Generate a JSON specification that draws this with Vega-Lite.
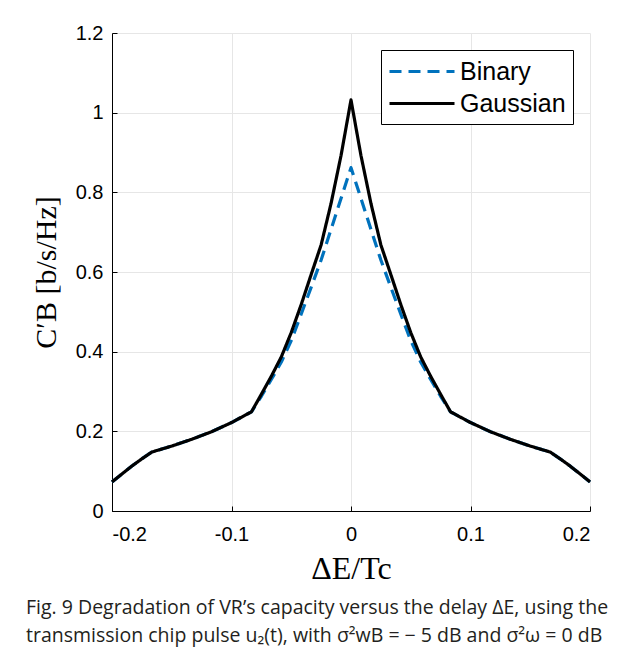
{
  "$schema": "https://vega.github.io/schema/vega-lite/v6.json",
  "width": 478,
  "height": 478,
  "autosize": {"type": "none"},
  "padding": {"left": 112, "top": 33, "right": 36, "bottom": 152},
  "background": "white",
  "config": {
    "view": {"stroke": null},
    "font": "Liberation Sans",
    "axis": {
      "domainColor": "black",
      "domainWidth": 1,
      "tickColor": "black",
      "tickSize": -5,
      "gridColor": "#e6e6e6",
      "gridWidth": 1,
      "labelFont": "Liberation Sans",
      "labelFontSize": 20,
      "labelColor": "black",
      "titleFont": "Liberation Serif",
      "titleFontWeight": "normal",
      "titleColor": "black"
    },
    "legend": {
      "orient": "top-right",
      "offset": 17,
      "strokeColor": "black",
      "fillColor": "white",
      "padding": 7,
      "symbolType": "M-1,0H4",
      "symbolSize": 676,
      "symbolStrokeWidth": 3,
      "labelFont": "Liberation Sans",
      "labelFontSize": 25,
      "labelColor": "black",
      "labelOffset": 43,
      "rowPadding": 4,
      "cornerRadius": 0
    }
  },
  "title": {
    "text": ["Fig. 9 Degradation of VR’s capacity versus the delay ΔE, using the", "transmission chip pulse u₂(t), with σ²wB = − 5 dB and σ²ω = 0 dB"],
    "orient": "bottom",
    "anchor": "start",
    "frame": "group",
    "dx": -86,
    "offset": 15,
    "font": "Open Sans",
    "fontSize": 19.5,
    "fontWeight": "normal",
    "color": "#231f20",
    "lineHeight": 28
  },
  "data": {
    "values": [
      {"x": -0.2, "y": 0.073, "series": "Binary"},
      {"x": -0.1917, "y": 0.093, "series": "Binary"},
      {"x": -0.1833, "y": 0.113, "series": "Binary"},
      {"x": -0.175, "y": 0.131, "series": "Binary"},
      {"x": -0.1667, "y": 0.148, "series": "Binary"},
      {"x": -0.15, "y": 0.163, "series": "Binary"},
      {"x": -0.1333, "y": 0.18, "series": "Binary"},
      {"x": -0.1167, "y": 0.199, "series": "Binary"},
      {"x": -0.1, "y": 0.222, "series": "Binary"},
      {"x": -0.0833, "y": 0.249, "series": "Binary"},
      {"x": -0.075, "y": 0.288, "series": "Binary"},
      {"x": -0.0667, "y": 0.33, "series": "Binary"},
      {"x": -0.0583, "y": 0.374, "series": "Binary"},
      {"x": -0.05, "y": 0.428, "series": "Binary"},
      {"x": -0.0417, "y": 0.494, "series": "Binary"},
      {"x": -0.0333, "y": 0.562, "series": "Binary"},
      {"x": -0.025, "y": 0.63, "series": "Binary"},
      {"x": -0.0167, "y": 0.707, "series": "Binary"},
      {"x": -0.0083, "y": 0.785, "series": "Binary"},
      {"x": 0, "y": 0.862, "series": "Binary"},
      {"x": 0.0083, "y": 0.785, "series": "Binary"},
      {"x": 0.0167, "y": 0.707, "series": "Binary"},
      {"x": 0.025, "y": 0.63, "series": "Binary"},
      {"x": 0.0333, "y": 0.562, "series": "Binary"},
      {"x": 0.0417, "y": 0.494, "series": "Binary"},
      {"x": 0.05, "y": 0.428, "series": "Binary"},
      {"x": 0.0583, "y": 0.374, "series": "Binary"},
      {"x": 0.0667, "y": 0.33, "series": "Binary"},
      {"x": 0.075, "y": 0.288, "series": "Binary"},
      {"x": 0.0833, "y": 0.249, "series": "Binary"},
      {"x": 0.1, "y": 0.222, "series": "Binary"},
      {"x": 0.1167, "y": 0.199, "series": "Binary"},
      {"x": 0.1333, "y": 0.18, "series": "Binary"},
      {"x": 0.15, "y": 0.163, "series": "Binary"},
      {"x": 0.1667, "y": 0.148, "series": "Binary"},
      {"x": 0.175, "y": 0.131, "series": "Binary"},
      {"x": 0.1833, "y": 0.113, "series": "Binary"},
      {"x": 0.1917, "y": 0.093, "series": "Binary"},
      {"x": 0.2, "y": 0.073, "series": "Binary"},
      {"x": -0.2, "y": 0.073, "series": "Gaussian"},
      {"x": -0.1917, "y": 0.093, "series": "Gaussian"},
      {"x": -0.1833, "y": 0.113, "series": "Gaussian"},
      {"x": -0.175, "y": 0.131, "series": "Gaussian"},
      {"x": -0.1667, "y": 0.148, "series": "Gaussian"},
      {"x": -0.15, "y": 0.163, "series": "Gaussian"},
      {"x": -0.1333, "y": 0.18, "series": "Gaussian"},
      {"x": -0.1167, "y": 0.199, "series": "Gaussian"},
      {"x": -0.1, "y": 0.222, "series": "Gaussian"},
      {"x": -0.0833, "y": 0.249, "series": "Gaussian"},
      {"x": -0.075, "y": 0.293, "series": "Gaussian"},
      {"x": -0.0667, "y": 0.338, "series": "Gaussian"},
      {"x": -0.0583, "y": 0.387, "series": "Gaussian"},
      {"x": -0.05, "y": 0.448, "series": "Gaussian"},
      {"x": -0.0417, "y": 0.518, "series": "Gaussian"},
      {"x": -0.0333, "y": 0.594, "series": "Gaussian"},
      {"x": -0.025, "y": 0.668, "series": "Gaussian"},
      {"x": -0.0167, "y": 0.772, "series": "Gaussian"},
      {"x": -0.0083, "y": 0.893, "series": "Gaussian"},
      {"x": 0, "y": 1.032, "series": "Gaussian"},
      {"x": 0.0083, "y": 0.893, "series": "Gaussian"},
      {"x": 0.0167, "y": 0.772, "series": "Gaussian"},
      {"x": 0.025, "y": 0.668, "series": "Gaussian"},
      {"x": 0.0333, "y": 0.594, "series": "Gaussian"},
      {"x": 0.0417, "y": 0.518, "series": "Gaussian"},
      {"x": 0.05, "y": 0.448, "series": "Gaussian"},
      {"x": 0.0583, "y": 0.387, "series": "Gaussian"},
      {"x": 0.0667, "y": 0.338, "series": "Gaussian"},
      {"x": 0.075, "y": 0.293, "series": "Gaussian"},
      {"x": 0.0833, "y": 0.249, "series": "Gaussian"},
      {"x": 0.1, "y": 0.222, "series": "Gaussian"},
      {"x": 0.1167, "y": 0.199, "series": "Gaussian"},
      {"x": 0.1333, "y": 0.18, "series": "Gaussian"},
      {"x": 0.15, "y": 0.163, "series": "Gaussian"},
      {"x": 0.1667, "y": 0.148, "series": "Gaussian"},
      {"x": 0.175, "y": 0.131, "series": "Gaussian"},
      {"x": 0.1833, "y": 0.113, "series": "Gaussian"},
      {"x": 0.1917, "y": 0.093, "series": "Gaussian"},
      {"x": 0.2, "y": 0.073, "series": "Gaussian"}
    ]
  },
  "mark": {"type": "line", "strokeWidth": 3.2, "strokeCap": "butt", "strokeJoin": "round"},
  "encoding": {
    "x": {
      "field": "x",
      "type": "quantitative",
      "scale": {"domain": [-0.2, 0.2], "nice": false, "zero": false},
      "axis": {
        "values": [-0.2, -0.1, 0, 0.1, 0.2],
        "labelExpr": "replace(format(datum.value, '~g'), '\u2212', '-')",
        "labelPadding": 18,
        "title": "ΔE/Tc",
        "titleFontSize": 32,
        "titlePadding": 9
      }
    },
    "y": {
      "field": "y",
      "type": "quantitative",
      "scale": {"domain": [0, 1.2], "nice": false},
      "axis": {
        "values": [0, 0.2, 0.4, 0.6, 0.8, 1, 1.2],
        "labelExpr": "format(datum.value, '~g')",
        "labelPadding": 14,
        "title": "C′B [b/s/Hz]",
        "titleFontSize": 30,
        "titlePadding": 14
      }
    },
    "color": {
      "field": "series",
      "type": "nominal",
      "scale": {"domain": ["Binary", "Gaussian"], "range": ["#0072BD", "#000000"]},
      "legend": {"title": null}
    },
    "strokeDash": {
      "field": "series",
      "type": "nominal",
      "scale": {"domain": ["Binary", "Gaussian"], "range": [[12, 7], [1, 0]]},
      "legend": {"title": null}
    }
  }
}
